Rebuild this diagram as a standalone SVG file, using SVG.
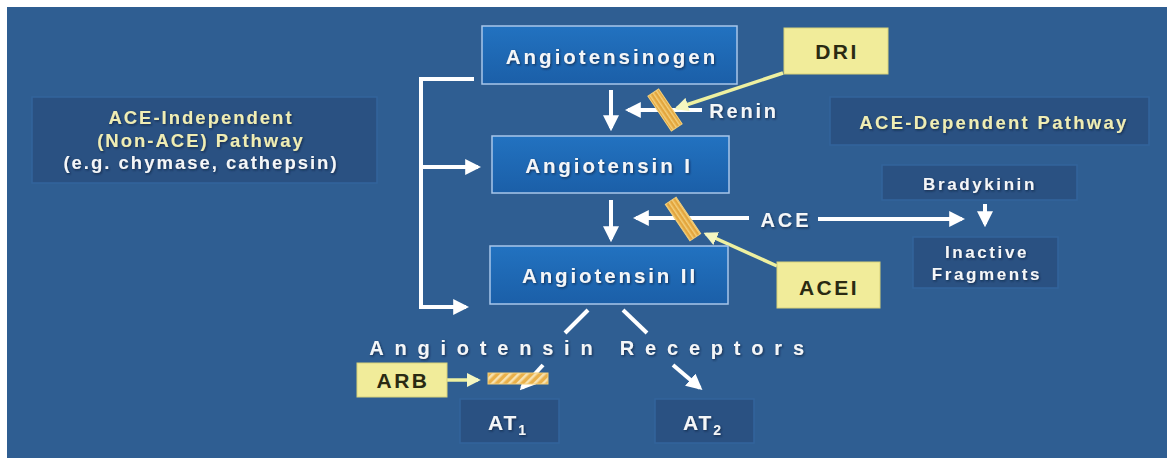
<svg xmlns="http://www.w3.org/2000/svg" width="1167" height="458" viewBox="0 0 1167 458">
<style>
.t{font-family:"Liberation Sans",Arial,sans-serif;font-weight:bold;text-anchor:middle}
.w{fill:#f4f6f8;filter:url(#sh)}
.y{fill:#efedb4;filter:url(#sh)}
.d{fill:#2a2a12}
.main{stroke:#a8c6ea;stroke-width:1.5;fill:url(#gMain)}
.dark{fill:#2a5182;stroke:#33649c;stroke-width:1.5}
.yel{fill:#f1ec9a;stroke:#d8d27a;stroke-width:1}
.wl{stroke:#ffffff;stroke-width:4;fill:none}
.yl{stroke:#eef0a0;stroke-width:3.5;fill:none}
.bar{stroke:#f3cf7a;stroke-width:1}
</style>
<defs>
<filter id="sh" x="-10%" y="-30%" width="120%" height="160%">
<feDropShadow dx="1" dy="1.2" stdDeviation="0.8" flood-color="#0a1a30" flood-opacity="0.7"/>
</filter>
<linearGradient id="gMain" x1="0" y1="0" x2="0" y2="1">
<stop offset="0" stop-color="#2272c0"/>
<stop offset="1" stop-color="#1b5fa8"/>
</linearGradient>
<marker id="aw" viewBox="0 0 10 10" refX="8" refY="5" markerWidth="4" markerHeight="4" orient="auto" markerUnits="strokeWidth">
<path d="M0,0 L10,5 L0,10 z" fill="#ffffff"/>
</marker>
<marker id="ay" viewBox="0 0 10 10" refX="8" refY="5" markerWidth="4" markerHeight="4" orient="auto" markerUnits="strokeWidth">
<path d="M0,0 L10,5 L0,10 z" fill="#f4f6c0"/>
</marker>
<pattern id="hatch" width="6" height="6" patternUnits="userSpaceOnUse" patternTransform="rotate(45)">
<rect width="6" height="6" fill="#e9b04a"/>
<rect width="2.5" height="6" fill="#f7e2b0"/>
</pattern>
<pattern id="stripe" width="4" height="4" patternUnits="userSpaceOnUse">
<rect width="4" height="4" fill="#e3a63e"/>
<rect width="1.5" height="4" fill="#f3cf7a"/>
</pattern>
</defs>
<rect x="0" y="0" width="1167" height="458" fill="#ffffff"/>
<rect x="7" y="7" width="1160" height="451" fill="#2f5e92"/>

<g id="connectors">
<path class="wl" d="M474,79 H421 V307 H466" marker-end="url(#aw)"/>
<path class="wl" d="M421,167 H478" marker-end="url(#aw)"/>
<path class="wl" d="M611,90 V128" marker-end="url(#aw)"/>
<path class="wl" d="M611,200 V239" marker-end="url(#aw)"/>
<path class="wl" d="M702,110 H628" marker-end="url(#aw)"/>
<path class="wl" d="M749,218 H636" marker-end="url(#aw)"/>
<path class="wl" d="M818,219 H962" marker-end="url(#aw)"/>
<path class="wl" d="M985,204 V224" marker-end="url(#aw)"/>
<path class="wl" d="M588,310 L565,333"/>
<path class="wl" d="M623,310 L647,333"/>
<path class="wl" d="M543,365 L522,388" marker-end="url(#aw)"/>
<path class="wl" d="M673,365 L700,388" marker-end="url(#aw)"/>
<rect x="658.5" y="89" width="13" height="42" class="bar" style="fill:url(#stripe)" transform="rotate(-34 665 110)"/>
<rect x="676.5" y="197" width="13" height="44" class="bar" style="fill:url(#stripe)" transform="rotate(-34 683 219)"/>
<path class="yl" d="M783,73 L677,108" marker-end="url(#ay)"/>
<path class="yl" d="M777,266 L706,234" marker-end="url(#ay)"/>
<path class="yl" d="M447,380 L478,380" marker-end="url(#ay)"/>
<rect x="488" y="373" width="60" height="11" style="fill:url(#hatch)" stroke="#f3cf7a" stroke-width="1"/>
</g>

<g id="angiotensinogen">
<rect class="main" x="482" y="26" width="255" height="58"/>
<text class="t w" x="612" y="64" font-size="20.5" letter-spacing="3">Angiotensinogen</text>
</g>
<g id="angiotensin-i">
<rect class="main" x="492" y="136" width="237" height="57"/>
<text class="t w" x="609" y="173" font-size="20.5" letter-spacing="2.9">Angiotensin I</text>
</g>
<g id="angiotensin-ii">
<rect class="main" x="490" y="246" width="238" height="58"/>
<text class="t w" x="610" y="283" font-size="20.5" letter-spacing="2.9">Angiotensin II</text>
</g>
<g id="ace-independent">
<rect class="dark" x="32" y="97" width="345" height="86"/>
<text class="t y" x="201" y="124" font-size="18.5" letter-spacing="2">ACE-Independent</text>
<text class="t y" x="201" y="147" font-size="18.5" letter-spacing="2">(Non-ACE) Pathway</text>
<text class="t w" x="201" y="169" font-size="18.5" letter-spacing="2">(e.g. chymase, cathepsin)</text>
</g>
<g id="ace-dependent">
<rect class="dark" x="830" y="97" width="319" height="48"/>
<text class="t y" x="994" y="129" font-size="18.5" letter-spacing="2.3">ACE-Dependent Pathway</text>
</g>
<g id="bradykinin">
<rect class="dark" x="882" y="165" width="195" height="35"/>
<text class="t w" x="980" y="190" font-size="17" letter-spacing="2.6">Bradykinin</text>
</g>
<g id="inactive-fragments">
<rect class="dark" x="913" y="237" width="145" height="51"/>
<text class="t w" x="987" y="258" font-size="17" letter-spacing="2.6">Inactive</text>
<text class="t w" x="987" y="280" font-size="17" letter-spacing="2.6">Fragments</text>
</g>
<g id="dri">
<rect class="yel" x="784" y="28" width="104" height="46"/>
<text class="t d" x="837" y="59" font-size="21" letter-spacing="2.5">DRI</text>
</g>
<g id="acei">
<rect class="yel" x="777" y="262" width="103" height="46"/>
<text class="t d" x="829" y="295" font-size="21" letter-spacing="2.5">ACEI</text>
</g>
<g id="arb">
<rect class="yel" x="357" y="363" width="90" height="34"/>
<text class="t d" x="403" y="388" font-size="21" letter-spacing="2.5">ARB</text>
</g>
<g id="labels">
<text class="t w" x="744" y="118" font-size="20" letter-spacing="2.8">Renin</text>
<text class="t w" x="786" y="227" font-size="20" letter-spacing="3">ACE</text>
<text class="t w" x="592" y="355" font-size="20" letter-spacing="10.8">Angiotensin Receptors</text>
</g>
<g id="at1">
<rect class="dark" x="460" y="399" width="99" height="44"/>
<text class="t w" x="508" y="430" font-size="21" letter-spacing="2">AT<tspan font-size="14" dy="5">1</tspan></text>
</g>
<g id="at2">
<rect class="dark" x="655" y="399" width="99" height="44"/>
<text class="t w" x="703" y="430" font-size="21" letter-spacing="2">AT<tspan font-size="14" dy="5">2</tspan></text>
</g>
</svg>
